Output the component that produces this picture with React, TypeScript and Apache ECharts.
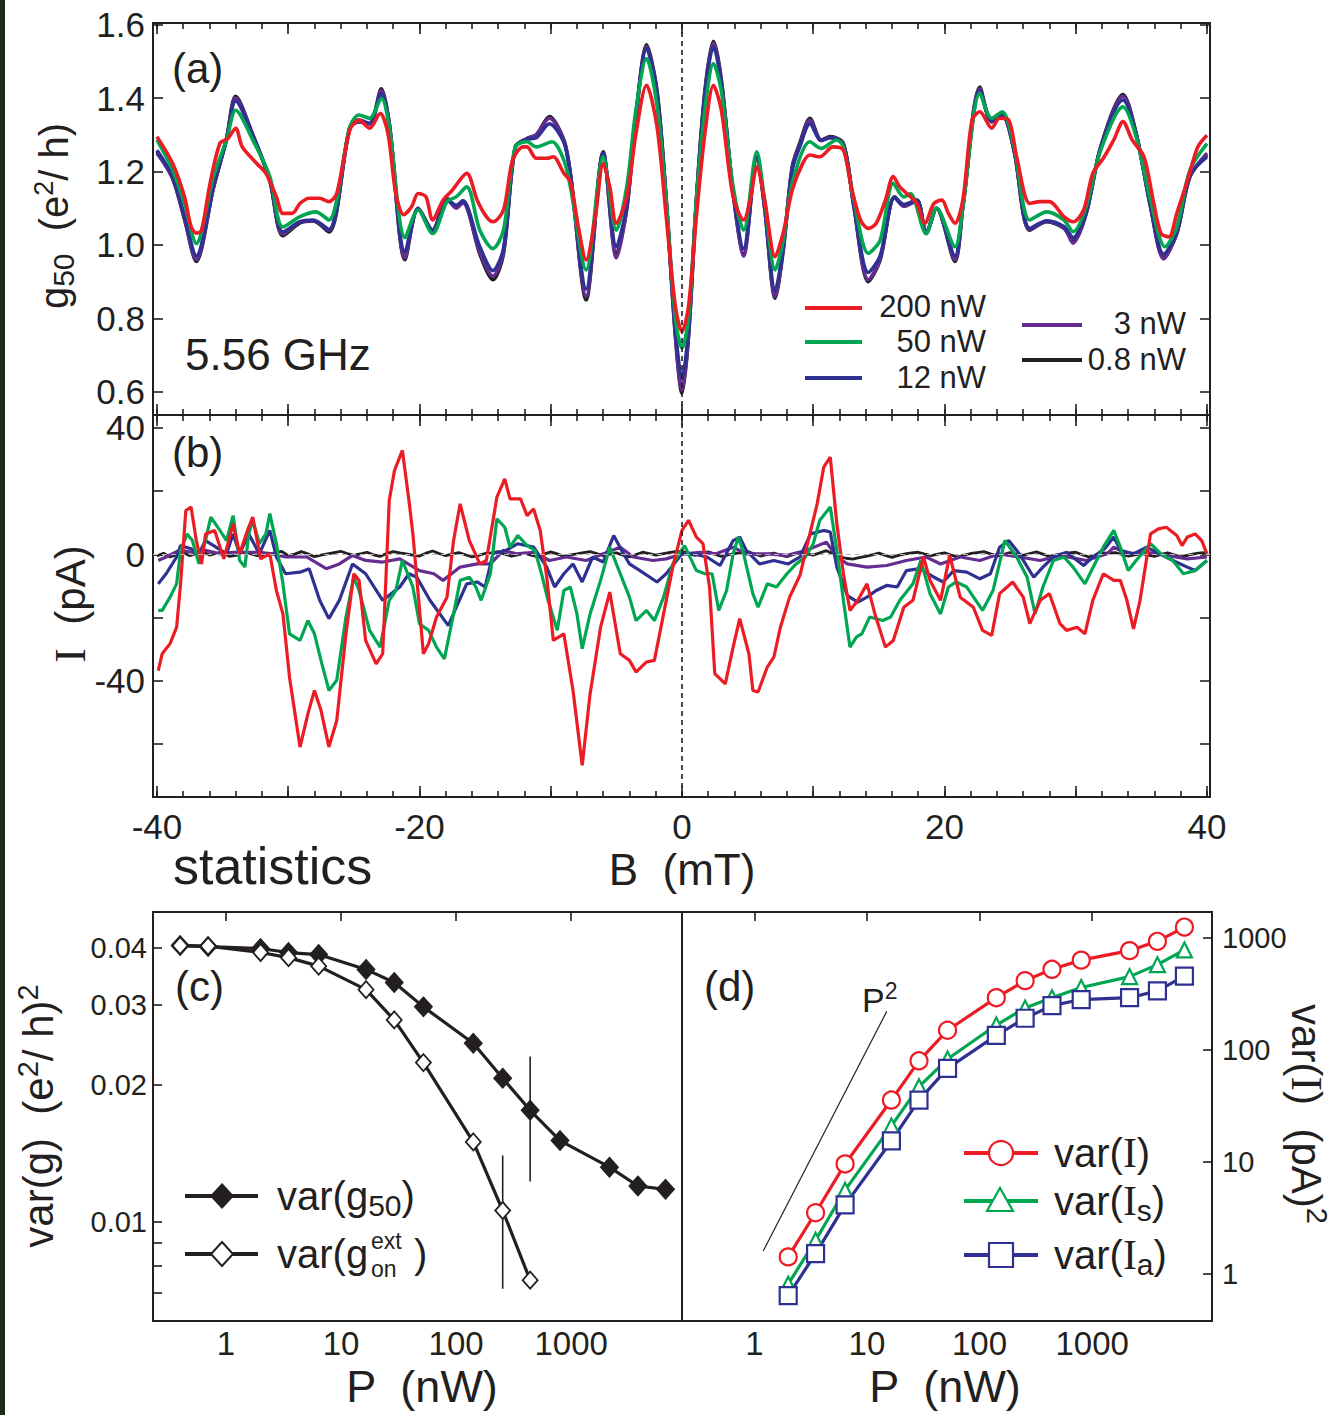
import React, { useEffect, useRef } from 'react';
import * as echarts from 'echarts';

const FONT = '"Liberation Sans", Arial, Helvetica, sans-serif';
const SERIF = '"Liberation Serif", "Times New Roman", serif';
const INK = '#231f20';
const RED = '#ec1c24';
const GREEN = '#00a651';
const BLUE = '#2e3192';
const PURPLE = '#662d91';

// ---------- tick / label values ----------
const B_TICKS_MINOR = [-40, -38, -36, -34, -32, -30, -28, -26, -24, -22, -20, -18, -16, -14, -12, -10, -8, -6, -4, -2, 0, 2, 4, 6, 8, 10, 12, 14, 16, 18, 20, 22, 24, 26, 28, 30, 32, 34, 36, 38, 40];
const B_TICKS_MAJOR = [-40, -30, -20, -10, 0, 10, 20, 30, 40];
const B_LABELS = [-40, -20, 0, 20, 40];
const G_TICKS = [0.6, 0.8, 1.0, 1.2, 1.4, 1.6];
const I_TICKS = [-60, -40, -20, 0, 20, 40];
const I_LABELS = [-40, 0, 40];
const P_LABELS = [1, 10, 100, 1000];
const VARG_TICKS = [0.04, 0.03, 0.02, 0.01, 0.009, 0.008, 0.007];
const VARG_LABELS = [0.04, 0.03, 0.02, 0.01];
const VARI_LABELS = [1, 10, 100, 1000];

// ---------- panel (a): g50 vs B ----------
const G_BLACK = [[-40.0,1.255],[-38.8,1.18],[-37.9,1.07],[-37.0,0.955],[-35.7,1.155],[-34.7,1.29],[-34.0,1.405],[-32.7,1.30],[-31.4,1.175],[-30.4,1.025],[-29.1,1.06],[-28.1,1.065],[-26.9,1.035],[-25.3,1.32],[-24.6,1.335],[-23.8,1.33],[-22.9,1.425],[-22.3,1.33],[-21.1,0.96],[-20.1,1.10],[-19.0,1.04],[-17.9,1.127],[-17.2,1.105],[-16.7,1.12],[-15.4,0.975],[-14.4,0.905],[-13.6,0.975],[-12.7,1.267],[-11.8,1.29],[-11.1,1.30],[-10.1,1.35],[-9.0,1.286],[-8.5,1.195],[-7.3,0.85],[-6.0,1.254],[-5.0,0.975],[-4.2,1.10],[-3.5,1.35],[-2.7,1.545],[-1.9,1.42],[-1.2,1.122],[-0.5,0.75],[0,0.595],[0.5,0.75],[1.1,1.122],[1.75,1.42],[2.4,1.555],[3.0,1.45],[3.9,1.141],[4.7,0.975],[5.7,1.24],[6.3,1.10],[7.1,0.855],[7.7,0.98],[8.4,1.213],[9.0,1.28],[9.75,1.345],[10.6,1.286],[11.3,1.295],[12.3,1.276],[13.1,1.104],[14.2,0.90],[15.1,0.959],[16.2,1.131],[16.9,1.109],[17.9,1.122],[18.6,1.031],[19.4,1.10],[20.8,0.955],[21.4,1.104],[22.7,1.43],[23.6,1.336],[24.4,1.354],[25.3,1.258],[26.5,1.04],[27.8,1.063],[29.1,1.045],[29.8,1.01],[30.8,1.086],[31.9,1.267],[33.6,1.41],[34.6,1.304],[35.7,1.104],[36.7,0.965],[37.7,1.031],[38.7,1.186],[40.0,1.245]];
const G_PURPLE = [[-40.0,1.25],[-38.8,1.182],[-37.9,1.072],[-37.0,0.96],[-35.7,1.155],[-34.7,1.288],[-34.0,1.40],[-32.7,1.30],[-31.4,1.176],[-30.4,1.03],[-29.1,1.062],[-28.1,1.066],[-26.9,1.04],[-25.3,1.32],[-24.6,1.336],[-23.8,1.33],[-22.9,1.42],[-22.3,1.33],[-21.1,0.965],[-20.1,1.10],[-19.0,1.04],[-17.9,1.125],[-17.2,1.10],[-16.7,1.115],[-15.4,0.98],[-14.4,0.915],[-13.6,0.98],[-12.7,1.265],[-11.8,1.29],[-11.1,1.30],[-10.1,1.345],[-9.0,1.285],[-8.5,1.19],[-7.3,0.86],[-6.0,1.25],[-5.0,0.965],[-4.2,1.10],[-3.5,1.35],[-2.7,1.54],[-1.9,1.415],[-1.2,1.12],[-0.5,0.755],[0,0.605],[0.5,0.755],[1.1,1.12],[1.75,1.415],[2.4,1.55],[3.0,1.445],[3.9,1.14],[4.7,0.97],[5.7,1.238],[6.3,1.10],[7.1,0.86],[7.7,0.985],[8.4,1.21],[9.0,1.275],[9.75,1.34],[10.6,1.285],[11.3,1.293],[12.3,1.274],[13.1,1.105],[14.2,0.905],[15.1,0.962],[16.2,1.13],[16.9,1.105],[17.9,1.12],[18.6,1.032],[19.4,1.10],[20.8,0.96],[21.4,1.104],[22.7,1.425],[23.6,1.335],[24.4,1.352],[25.3,1.257],[26.5,1.042],[27.8,1.064],[29.1,1.047],[29.8,1.005],[30.8,1.086],[31.9,1.265],[33.6,1.405],[34.6,1.303],[35.7,1.105],[36.7,0.962],[37.7,1.032],[38.7,1.186],[40.0,1.25]];
const G_BLUE = [[-40.0,1.258],[-38.8,1.186],[-37.9,1.078],[-37.0,0.97],[-35.7,1.16],[-34.7,1.286],[-34.0,1.392],[-32.7,1.298],[-31.4,1.177],[-30.4,1.035],[-29.1,1.063],[-28.1,1.068],[-26.9,1.042],[-25.3,1.322],[-24.6,1.34],[-23.8,1.331],[-22.9,1.412],[-22.3,1.33],[-21.1,0.98],[-20.1,1.098],[-19.0,1.04],[-17.9,1.122],[-17.2,1.108],[-16.7,1.12],[-15.4,0.995],[-14.4,0.93],[-13.6,0.99],[-12.7,1.266],[-11.8,1.288],[-11.1,1.292],[-10.1,1.33],[-9.0,1.28],[-8.5,1.19],[-7.3,0.88],[-6.0,1.25],[-5.0,0.995],[-4.2,1.11],[-3.5,1.36],[-2.7,1.535],[-1.9,1.41],[-1.2,1.122],[-0.5,0.77],[0,0.635],[0.5,0.77],[1.1,1.122],[1.75,1.41],[2.4,1.54],[3.0,1.44],[3.9,1.145],[4.7,0.99],[5.7,1.24],[6.3,1.11],[7.1,0.875],[7.7,0.99],[8.4,1.205],[9.0,1.27],[9.75,1.33],[10.6,1.284],[11.3,1.292],[12.3,1.272],[13.1,1.108],[14.2,0.925],[15.1,0.97],[16.2,1.13],[16.9,1.11],[17.9,1.122],[18.6,1.032],[19.4,1.10],[20.8,0.97],[21.4,1.104],[22.7,1.42],[23.6,1.338],[24.4,1.355],[25.3,1.26],[26.5,1.045],[27.8,1.066],[29.1,1.05],[29.8,1.02],[30.8,1.09],[31.9,1.265],[33.6,1.395],[34.6,1.302],[35.7,1.108],[36.7,0.975],[37.7,1.035],[38.7,1.19],[40.0,1.24]];
const G_GREEN = [[-40.0,1.286],[-38.8,1.204],[-37.9,1.113],[-37.0,1.004],[-35.7,1.186],[-34.7,1.286],[-34.0,1.367],[-32.7,1.286],[-31.4,1.186],[-30.4,1.049],[-29.1,1.077],[-27.9,1.09],[-26.9,1.068],[-25.3,1.322],[-24.6,1.354],[-23.8,1.345],[-22.9,1.399],[-22.3,1.322],[-21.1,1.02],[-20.1,1.095],[-19.0,1.031],[-17.9,1.118],[-17.2,1.131],[-16.4,1.158],[-15.4,1.04],[-14.4,0.99],[-13.6,1.04],[-12.7,1.267],[-11.8,1.281],[-11.1,1.267],[-9.9,1.281],[-9.0,1.231],[-8.5,1.158],[-7.3,0.932],[-6.0,1.24],[-5.0,1.04],[-4.2,1.16],[-3.5,1.37],[-2.7,1.508],[-1.9,1.38],[-1.2,1.122],[-0.5,0.80],[0,0.719],[0.5,0.80],[1.1,1.122],[1.75,1.37],[2.4,1.494],[3.0,1.42],[3.9,1.158],[4.7,1.04],[5.7,1.254],[6.3,1.12],[7.1,0.932],[7.7,1.01],[8.4,1.168],[9.75,1.281],[10.6,1.263],[11.8,1.286],[12.3,1.267],[13.1,1.122],[14.2,0.977],[15.1,1.013],[16.1,1.168],[16.9,1.131],[17.4,1.14],[18.6,1.031],[19.4,1.1],[20.8,0.995],[21.4,1.104],[22.7,1.413],[23.6,1.345],[24.4,1.363],[25.3,1.267],[26.5,1.068],[27.8,1.09],[29.1,1.068],[29.8,1.036],[30.8,1.104],[31.9,1.258],[33.6,1.376],[34.6,1.295],[35.7,1.122],[36.8,0.995],[37.7,1.049],[38.7,1.204],[40.0,1.276]];
const G_RED = [[-40.0,1.295],[-38.8,1.222],[-37.9,1.131],[-37.4,1.05],[-37.0,1.032],[-36.6,1.04],[-36.0,1.159],[-35.2,1.277],[-34.6,1.29],[-34.0,1.318],[-33.5,1.267],[-32.4,1.222],[-31.7,1.195],[-30.9,1.131],[-30.4,1.086],[-29.7,1.086],[-29.1,1.113],[-28.4,1.127],[-27.6,1.127],[-26.9,1.118],[-26.3,1.14],[-25.3,1.313],[-24.6,1.34],[-23.8,1.318],[-23.0,1.358],[-22.4,1.304],[-21.8,1.14],[-21.2,1.082],[-20.6,1.104],[-20.1,1.14],[-19.5,1.131],[-19.0,1.068],[-18.2,1.122],[-17.5,1.149],[-16.4,1.195],[-15.6,1.122],[-14.9,1.077],[-14.4,1.063],[-13.6,1.095],[-12.9,1.231],[-12.1,1.267],[-11.8,1.267],[-11.1,1.236],[-10.3,1.236],[-9.8,1.24],[-9.0,1.195],[-8.5,1.172],[-7.9,1.05],[-7.3,0.959],[-6.6,1.077],[-6.0,1.222],[-5.5,1.158],[-5.0,1.059],[-4.2,1.131],[-3.5,1.304],[-2.7,1.435],[-1.9,1.322],[-1.2,1.077],[-0.5,0.832],[0,0.764],[0.5,0.832],[1.1,1.077],[1.75,1.304],[2.4,1.435],[3.0,1.367],[3.9,1.131],[4.7,1.068],[5.2,1.122],[5.7,1.213],[6.3,1.122],[7.1,0.968],[7.7,1.031],[8.4,1.149],[9.2,1.222],[9.75,1.245],[10.5,1.24],[11.5,1.267],[12.3,1.258],[12.9,1.158],[13.6,1.068],[14.2,1.045],[14.8,1.059],[15.5,1.122],[16.1,1.186],[16.6,1.158],[17.4,1.131],[17.9,1.113],[18.5,1.059],[19.2,1.113],[19.8,1.122],[20.3,1.086],[20.8,1.059],[21.4,1.122],[22.1,1.34],[22.7,1.363],[23.6,1.318],[24.2,1.345],[24.9,1.34],[25.5,1.24],[26.5,1.113],[27.3,1.118],[28.0,1.118],[29.1,1.077],[29.8,1.063],[30.6,1.095],[31.3,1.195],[32.1,1.236],[32.9,1.286],[33.6,1.336],[34.3,1.286],[35.2,1.24],[35.9,1.122],[36.5,1.031],[37.1,1.022],[37.7,1.086],[38.6,1.186],[39.3,1.267],[40.0,1.299]];

// ---------- panel (b): I vs B ----------
const I_BLACK = [[-40,-0.5],[-39.5,0.4],[-39,-0.8],[-38.5,-0.1],[-38,0.6],[-37.5,-0.4],[-37,0.3],[-36.5,0.9],[-36,-0.2],[-35.5,0.3],[-35,0.8],[-34.5,-0.6],[-34,-0.3],[-33.5,0.7],[-33,0.4],[-32.5,-0.2],[-32,-0.6],[-31.5,0.2],[-31,0.5],[-30.5,1.0],[-30,-0.4],[-29.5,0.1],[-29,0.9],[-28.5,0.2],[-28,-0.7],[-27.5,-0.2],[-27,0.2],[-26.5,0.6],[-26,1.0],[-25.5,0.3],[-25,-0.3],[-24.5,0.2],[-24,0.7],[-23.5,-0.1],[-23,-0.6],[-22.5,0.3],[-22,0.9],[-21.5,0.5],[-21,0.2],[-20.5,-0.2],[-20,-0.5],[-19.5,0.4],[-19,1.1],[-18.5,0.3],[-18,-0.4],[-17.5,0.1],[-17,0.6],[-16.5,-0.1],[-16,-0.8],[-15.5,-0.3],[-15,0.3],[-14.5,0.5],[-14,0.9],[-13.5,0.1],[-13,-0.5],[-12.5,-0.1],[-12,0.4],[-11.5,-0.2],[-11,-0.7],[-10.5,0.1],[-10,0.8],[-9.5,0.2],[-9,-0.6],[-8.5,-0.1],[-8,0.2],[-7.5,0.6],[-7,0.9],[-6.5,0.3],[-6,-0.4],[-5.5,0.1],[-5,0.5],[-4.5,-0.2],[-4,-0.8],[-3.5,0.0],[-3,0.7],[-2.5,0.3],[-2,-0.2],[-1.5,0.2],[-1,0.6],[-0.5,0.9],[0,1.0],[0.5,0.3],[1,-0.3],[1.5,0.4],[2,0.8],[2.5,0.1],[3,-0.6],[3.5,-0.1],[4,0.3],[4.5,0.6],[5,0.9],[5.5,0.2],[6,-0.5],[6.5,0.0],[7,0.4],[7.5,-0.2],[8,-0.7],[8.5,0.0],[9,0.6],[9.5,0.2],[10,-0.2],[10.5,0.5],[11,1.2],[11.5,0.2],[12,-0.8],[12.5,-1.2],[13,-1.5],[13.5,-1.0],[14,-0.6],[14.5,-0.1],[15,0.4],[15.5,-0.3],[16,-0.9],[16.5,-0.3],[17,0.2],[17.5,0.5],[18,0.7],[18.5,0.1],[19,-0.4],[19.5,0.1],[20,0.5],[20.5,-0.2],[21,-0.8],[21.5,-0.2],[22,0.3],[22.5,0.6],[23,0.9],[23.5,0.2],[24,-0.5],[24.5,0.0],[25,0.6],[25.5,0.1],[26,-0.3],[26.5,0.3],[27,0.8],[27.5,0.1],[28,-0.6],[28.5,-0.1],[29,0.2],[29.5,0.5],[30,0.7],[30.5,-0.1],[31,-0.8],[31.5,-0.2],[32,0.4],[32.5,0.5],[33,0.6],[33.5,0.0],[34,-0.5],[34.5,-0.1],[35,0.3],[35.5,-0.2],[36,-0.6],[36.5,0.0],[37,0.5],[37.5,-0.1],[38,-0.8],[38.5,-0.3],[39,0.2],[39.5,0.5],[40,0.6]];
const I_PURPLE = [[-39.9,-1.9],[-39.3,-0.8],[-38.3,1.3],[-37.3,0.7],[-36.3,1.3],[-35.2,0.2],[-34.2,0.7],[-33.2,0.7],[-32.2,0.7],[-31.2,0.2],[-30.2,-0.8],[-28.6,-0.8],[-27.1,-4.5],[-26.1,-3.0],[-25.1,-0.3],[-24.1,-1.9],[-22.8,-2.4],[-21.5,-1.4],[-20.0,-5.1],[-18.9,-6.1],[-18.2,-8.2],[-16.9,-4.0],[-15.6,-3.0],[-14.6,-3.0],[-13.6,1.3],[-12.6,0.2],[-11.3,0.7],[-10.1,-1.9],[-8.8,-0.8],[-7.3,-1.9],[-5.7,0.7],[-4.7,2.3],[-3.7,-0.8],[-2.2,-1.9],[-1.2,-1.4],[0.1,0.2],[1.4,0.7],[2.6,0.2],[3.9,2.3],[4.9,0.2],[6.5,0.2],[8.0,-0.3],[9.5,1.3],[11.0,3.9],[11.8,-0.8],[12.6,-3.0],[14.1,-4.0],[15.6,-3.5],[17.1,-1.9],[18.6,-0.8],[19.7,-3.0],[21.2,-0.8],[22.7,-1.9],[24.2,0.2],[25.7,-0.8],[27.3,-1.9],[28.8,-0.3],[30.8,-1.9],[32.4,0.2],[32.9,2.3],[33.9,0.2],[35.4,0.7],[36.9,-0.3],[38.5,-1.4],[40.0,-0.8]];
const I_BLUE = [[-39.9,-9.3],[-39.3,-6.1],[-38.5,-0.8],[-38.2,2.8],[-37.4,1.8],[-36.8,0.2],[-36.3,4.4],[-35.5,2.3],[-34.7,0.2],[-34.2,6.5],[-33.7,0.2],[-33.0,6.5],[-32.2,0.2],[-31.4,7.6],[-30.9,-0.8],[-30.2,-6.1],[-29.1,-5.6],[-28.4,-4.5],[-27.6,-14.5],[-26.9,-20.3],[-26.1,-14.5],[-25.1,-3.0],[-24.1,-6.1],[-22.8,-14.5],[-21.5,-10.3],[-20.8,-6.1],[-20.2,-7.2],[-19.2,-14.5],[-17.8,-22.5],[-17.2,-16.7],[-16.4,-9.3],[-15.6,-8.7],[-15.0,-10.3],[-14.4,0.2],[-13.4,1.3],[-12.5,3.4],[-11.3,2.3],[-10.3,-4.0],[-9.7,-10.3],[-9.0,-6.1],[-8.3,-3.0],[-7.6,-8.7],[-6.8,-0.8],[-6.0,-2.4],[-5.2,6.0],[-4.6,1.3],[-4.0,-3.0],[-3.2,-5.1],[-1.9,-8.7],[-1.2,-6.1],[0.0,0.2],[0.9,0.2],[1.9,-0.8],[2.9,-3.5],[3.9,4.4],[4.4,5.5],[4.9,1.3],[5.9,-3.0],[7.0,-1.9],[8.1,-3.0],[9.0,-0.8],[9.8,6.5],[10.8,7.6],[11.3,7.1],[11.8,-4.0],[12.6,-13.0],[13.4,-15.1],[14.1,-13.5],[14.8,-11.4],[15.6,-9.8],[16.4,-10.3],[17.1,-5.1],[18.1,-4.5],[19.2,-7.2],[19.9,-8.7],[20.7,-5.1],[21.7,-5.6],[22.7,-7.7],[23.5,-6.1],[24.2,2.3],[24.9,4.4],[25.7,0.2],[26.8,-7.2],[27.5,-4.0],[28.3,-0.8],[29.3,0.7],[30.6,-3.5],[31.3,-0.8],[32.2,1.8],[32.9,5.5],[33.4,1.3],[34.4,0.2],[35.4,2.3],[36.4,0.2],[37.4,-1.9],[38.5,-4.0],[39.1,-5.1],[40.0,-1.9]];
const I_GREEN = [[-39.9,-17.7],[-39.6,-17.7],[-39.0,-13.5],[-38.5,-9.3],[-38.2,1.3],[-37.7,6.5],[-37.3,4.4],[-36.8,-3.0],[-36.3,4.4],[-35.9,11.8],[-35.2,7.6],[-34.7,4.4],[-34.2,12.3],[-33.7,-1.9],[-33.3,-4.0],[-33.0,6.5],[-32.7,10.8],[-32.2,3.4],[-31.7,6.5],[-31.4,12.9],[-30.9,3.4],[-30.4,-9.3],[-29.9,-25.1],[-29.1,-27.2],[-28.5,-20.9],[-28.0,-25.1],[-27.5,-33.5],[-26.9,-43.0],[-26.3,-39.8],[-25.6,-19.8],[-25.0,-7.2],[-24.6,-11.4],[-23.8,-24.0],[-23.0,-29.3],[-22.3,-14.5],[-21.8,-11.4],[-21.3,-1.9],[-20.5,-10.3],[-20.0,-21.9],[-19.3,-24.0],[-18.7,-29.3],[-18.1,-33.0],[-17.4,-18.8],[-16.9,-8.2],[-16.2,-7.2],[-15.7,-10.3],[-15.3,-14.5],[-14.6,-6.1],[-14.1,11.3],[-13.5,8.6],[-13.1,2.3],[-12.5,6.0],[-11.8,2.8],[-11.2,1.3],[-10.7,-6.1],[-10.2,-14.5],[-9.5,-24.0],[-9.0,-11.4],[-8.5,-10.3],[-8.0,-18.8],[-7.6,-29.8],[-7.0,-18.8],[-6.2,-8.2],[-5.5,2.3],[-4.7,-6.1],[-4.0,-13.5],[-3.5,-20.9],[-2.7,-17.7],[-2.1,-20.9],[-1.4,-13.5],[-0.7,-3.0],[0.2,2.8],[1.1,-5.1],[1.75,-6.1],[2.3,-6.1],[2.8,-17.7],[3.4,-11.4],[3.9,0.2],[4.3,5.5],[4.7,0.2],[5.4,-12.4],[5.8,-16.7],[6.5,-9.3],[7.2,-10.3],[8.0,-6.1],[8.7,-3.0],[9.4,-0.8],[10.0,3.4],[10.5,10.8],[11.3,15.0],[11.8,1.3],[12.3,-14.5],[12.8,-29.3],[13.3,-26.1],[13.7,-25.1],[14.3,-19.8],[15.3,-20.9],[15.9,-19.8],[16.6,-14.5],[17.6,-9.3],[18.2,-1.9],[18.9,-12.4],[19.7,-18.8],[20.3,-10.3],[20.9,-8.7],[21.7,-10.3],[22.9,-17.7],[23.7,-11.4],[24.6,4.4],[25.5,-0.8],[26.3,-7.2],[26.9,-18.8],[27.5,-10.3],[28.3,-1.9],[29.1,-0.8],[29.8,-4.0],[30.7,-9.3],[31.2,-5.1],[32.1,2.3],[32.9,7.6],[33.4,2.3],[34.0,-5.1],[34.6,-1.9],[35.7,3.4],[36.5,0.2],[37.4,-1.9],[38.2,-6.1],[39.1,-5.1],[40.0,-1.9]];
const I_RED = [[-39.9,-36.7],[-39.6,-31.4],[-39.0,-28.2],[-38.5,-23.0],[-38.2,-9.3],[-37.8,13.9],[-37.4,15.0],[-37.0,4.4],[-36.6,-3.0],[-36.3,6.5],[-35.6,7.6],[-34.9,-1.4],[-34.2,9.7],[-33.7,0.2],[-33.1,7.6],[-32.7,11.8],[-32.1,-1.4],[-31.4,0.2],[-30.9,-11.4],[-30.4,-18.8],[-29.9,-38.8],[-29.1,-60.9],[-28.5,-50.4],[-28.0,-43.0],[-27.5,-49.3],[-26.9,-60.9],[-26.3,-52.5],[-25.6,-25.1],[-25.0,-6.1],[-24.6,-8.2],[-24.1,-27.2],[-23.3,-34.6],[-22.8,-31.4],[-22.3,17.1],[-21.9,26.6],[-21.3,32.9],[-20.8,17.1],[-20.5,6.5],[-19.7,-31.4],[-19.3,-28.2],[-18.7,-19.8],[-17.9,-13.5],[-17.4,4.4],[-16.9,16.0],[-16.2,4.4],[-15.4,-3.0],[-14.9,-1.9],[-14.1,18.1],[-13.5,23.9],[-13.1,17.6],[-12.3,17.6],[-11.8,12.3],[-11.3,14.4],[-10.8,7.6],[-10.3,-7.2],[-9.8,-27.2],[-9.0,-25.1],[-8.3,-43.0],[-7.6,-66.7],[-7.0,-44.1],[-6.2,-23.0],[-5.5,-11.9],[-4.7,-31.4],[-4.0,-33.5],[-3.5,-37.2],[-2.7,-34.0],[-2.1,-33.5],[-1.4,-18.8],[-0.7,-4.0],[0.0,7.6],[0.5,10.8],[1.1,5.5],[1.6,3.4],[2.1,-10.3],[2.5,-37.7],[3.3,-40.9],[3.9,-29.3],[4.4,-20.3],[5.1,-31.4],[5.4,-43.0],[5.8,-43.5],[6.5,-35.6],[7.0,-32.5],[7.5,-23.0],[8.2,-13.5],[9.0,-6.5],[9.5,2.3],[10.3,16.0],[10.8,27.6],[11.3,30.8],[11.8,9.7],[12.3,-6.1],[12.8,-17.7],[13.4,-14.5],[14.1,-9.3],[14.7,-18.8],[15.5,-29.3],[16.1,-27.2],[16.9,-16.7],[17.6,-14.5],[18.4,-0.8],[18.9,-8.2],[19.7,-14.5],[20.4,-0.3],[21.2,-13.5],[22.2,-16.7],[22.9,-24.0],[23.6,-25.6],[24.2,-12.4],[25.2,-8.7],[26.0,-13.5],[26.5,-21.9],[27.3,-14.5],[28.0,-12.4],[28.8,-21.9],[29.3,-24.0],[30.1,-23.0],[30.7,-25.1],[31.3,-14.5],[32.1,-6.1],[32.9,-8.2],[33.4,-8.2],[33.9,-14.5],[34.4,-23.5],[34.9,-14.5],[35.7,6.5],[36.3,8.1],[36.9,8.6],[37.7,6.0],[38.1,2.8],[38.5,5.5],[39.1,6.5],[39.6,4.4],[40.0,0.2]];

// ---------- panel (c): var(g) vs P ----------
const P_C_FILLED = [0.4, 0.7, 2, 3.5, 6.4, 16.5, 29, 52, 141, 254, 440, 800, 2150, 3800, 6600];
const VAR_G50 = [0.0405, 0.0403, 0.0399, 0.0391, 0.0387, 0.0359, 0.0336, 0.0297, 0.0247, 0.0207, 0.0176, 0.0151, 0.0132, 0.0120, 0.0118];
const P_C_OPEN = [0.4, 0.7, 2, 3.5, 6.4, 16.5, 29, 52, 141, 254, 440];
const VAR_GON = [0.0405, 0.0404, 0.0391, 0.0381, 0.0365, 0.0324, 0.0278, 0.0224, 0.0150, 0.0106, 0.00745];
const ERR_P = [440, 254];
const ERR_HI = [0.0231, 0.0140];
const ERR_LO = [0.01228, 0.00713];

// ---------- panel (d): var(I) vs P ----------
const P_D = [2, 3.5, 6.4, 16.5, 29, 52, 141, 254, 440, 800, 2150, 3800, 6600];
const VAR_I = [1.42, 3.52, 9.6, 35.7, 80, 150, 293, 416, 525, 634, 771, 933, 1251];
const VAR_IS = [0.81, 2.0, 5.6, 21, 47, 83, 167, 237, 293, 361, 452, 578, 782];
const VAR_IA = [0.64, 1.52, 4.14, 15.4, 35.7, 68.5, 135, 192, 249, 282, 293, 337, 456];
const P2_GUIDE = [[1.2, 1.6], [15, 221]];

const zip = (xs: number[], ys: number[]) => xs.map((x, i) => [x, ys[i]]);
const fmtNum = (v: number) => String(+Number(v).toPrecision(4));

function ticks(values: number[], len: number) {
  return { show: true, inside: true, length: len, customValues: values, lineStyle: { color: INK, width: 1.6 } };
}
function labels(values: number[], size: number, margin: number, fmt: (v: number) => string) {
  return { show: true, customValues: values, fontSize: size, fontFamily: FONT, color: INK, margin, formatter: fmt };
}
const NOLABEL = { show: false };
const NOLINE = { show: false, onZero: false };

function bx(grid: number, pos: string, t: number[], len: number, lab?: any) {
  return {
    type: 'value', gridIndex: grid, position: pos, min: -40.3, max: 40.23,
    axisLine: NOLINE, splitLine: { show: false },
    axisTick: ticks(t, len), axisLabel: lab || NOLABEL,
  };
}

function buildOption() {
  const rich = (size: number) => ({
    n: { fontSize: size, fontFamily: FONT, fill: INK, lineHeight: size + 8 },
    i: { fontSize: size + 2, fontFamily: SERIF, fill: INK, lineHeight: size + 8 },
    sub: { fontSize: Math.round(size * 0.75), fontFamily: FONT, fill: INK, lineHeight: Math.round(size * 0.55), verticalAlign: 'bottom' },
    sup: { fontSize: Math.round(size * 0.68), fontFamily: FONT, fill: INK, lineHeight: Math.round(size * 0.5), verticalAlign: 'top' },
  });
  const txt = (x: number, y: number, text: string, size: number, align = 'left') => ({
    type: 'text', x, y, z: 100,
    style: { text, fontSize: size, fontFamily: FONT, fill: INK, align, textAlign: align, verticalAlign: 'middle', textVerticalAlign: 'middle' },
  });
  const richTxt = (x: number, y: number, text: string, size: number, align = 'left', rotation = 0) => ({
    type: 'text', x, y, rotation, z: 100,
    style: { text, rich: rich(size), fontSize: size, fontFamily: FONT, fill: INK, align, textAlign: align, verticalAlign: 'middle', textVerticalAlign: 'middle' },
  });
  const hline = (x1: number, x2: number, y: number, color: string, w = 4) => ({
    type: 'line', z: 100, shape: { x1, y1: y, x2, y2: y }, style: { stroke: color, lineWidth: w },
  });

  const graphic: any[] = [
    { type: 'rect', shape: { x: 0, y: 0, width: 5, height: 1415 }, style: { fill: '#1b2a1b' } },
    txt(172, 68, '(a)', 42),
    txt(172, 452, '(b)', 42),
    txt(185, 354, '5.56 GHz', 44),
    txt(175, 986, '(c)', 42),
    txt(704, 986, '(d)', 42),
    txt(173, 866, 'statistics', 52),
    txt(682, 869, 'B  (mT)', 44, 'center'),
    txt(422, 1386, 'P  (nW)', 45, 'center'),
    txt(945, 1386, 'P  (nW)', 45, 'center'),
    richTxt(54, 216, '{n|g}{sub|50}{n|  (e}{sup|2}{n|/ h)}', 40, 'center', Math.PI / 2),
    richTxt(70, 604, '{i|I}{n|  (pA)}', 42, 'center', Math.PI / 2),
    richTxt(38, 1116, '{n|var(g)  (e}{sup|2}{n|/ h)}{sup|2}', 42, 'center', Math.PI / 2),
    richTxt(1306, 1114, '{n|var(}{i|I}{n|)  (pA)}{sup|2}', 42, 'center', -Math.PI / 2),
    // legend (a)
    hline(805, 862, 308, RED), txt(986, 306, '200 nW', 31, 'right'),
    hline(805, 862, 342, GREEN), txt(986, 341, '50 nW', 31, 'right'),
    hline(805, 862, 378, BLUE), txt(986, 377, '12 nW', 31, 'right'),
    hline(1022, 1082, 325, PURPLE), txt(1186, 323, '3 nW', 31, 'right'),
    hline(1022, 1082, 360, INK), txt(1186, 359, '0.8 nW', 31, 'right'),
    // legend (c)
    hline(185, 258, 1196, INK),
    { type: 'polygon', z: 101, shape: { points: [[222, 1184], [233, 1196], [222, 1208], [211, 1196]] }, style: { fill: INK, stroke: INK, lineWidth: 1.5 } },
    richTxt(277, 1196, '{n|var(g}{sub|50}{n|)}', 40),
    hline(185, 258, 1254, INK),
    { type: 'polygon', z: 101, shape: { points: [[222, 1242], [233, 1254], [222, 1266], [211, 1254]] }, style: { fill: '#fff', stroke: INK, lineWidth: 2 } },
    txt(277, 1254, 'var(g', 40),
    {
      type: 'text', x: 371, y: 1255, z: 100,
      style: { text: 'ext\non', fontSize: 23, lineHeight: 28, fontFamily: FONT, fill: INK, align: 'left', textAlign: 'left', verticalAlign: 'middle', textVerticalAlign: 'middle' },
    },
    txt(414, 1254, ')', 40),
    // legend (d)
    hline(964, 1038, 1153, RED),
    { type: 'circle', z: 101, shape: { cx: 1001, cy: 1153, r: 12 }, style: { fill: '#fff', stroke: RED, lineWidth: 2.2 } },
    richTxt(1054, 1153, '{n|var(}{i|I}{n|)}', 40),
    hline(964, 1038, 1201, GREEN),
    { type: 'polygon', z: 101, shape: { points: [[1000, 1188], [1013, 1211], [987, 1211]] }, style: { fill: '#fff', stroke: GREEN, lineWidth: 2.2 } },
    richTxt(1054, 1201, '{n|var(}{i|I}{sub|s}{n|)}', 40),
    hline(964, 1038, 1255, BLUE),
    { type: 'rect', z: 101, shape: { x: 989, y: 1243, width: 24, height: 24 }, style: { fill: '#fff', stroke: BLUE, lineWidth: 2.2 } },
    richTxt(1054, 1255, '{n|var(}{i|I}{sub|a}{n|)}', 40),
    // P^2 label
    richTxt(862, 1000, '{n|P}{sup|2}', 34),
  ];

  const gridBase = { show: true, borderColor: INK, borderWidth: 2, backgroundColor: 'transparent', containLabel: false, outerBoundsMode: 'none' };

  const xAxis: any[] = [
    bx(0, 'bottom', B_TICKS_MINOR, 6),
    bx(0, 'bottom', B_TICKS_MAJOR, 11),
    bx(0, 'top', B_TICKS_MINOR, 6),
    bx(0, 'top', B_TICKS_MAJOR, 11),
    bx(1, 'bottom', B_TICKS_MINOR, 6),
    bx(1, 'bottom', B_TICKS_MAJOR, 11, labels(B_LABELS, 35, 12, (v: number) => String(v))),
    bx(1, 'top', B_TICKS_MINOR, 6),
    bx(1, 'top', B_TICKS_MAJOR, 11),
    { type: 'log', gridIndex: 2, position: 'bottom', min: 0.2325, max: 9180, axisLine: NOLINE, splitLine: { show: false }, axisTick: { show: false }, axisLabel: labels(P_LABELS, 33, 6, fmtNum) },
    { type: 'log', gridIndex: 2, position: 'top', min: 0.2325, max: 9180, axisLine: NOLINE, splitLine: { show: false }, axisTick: ticks(P_LABELS, 9), axisLabel: NOLABEL },
    { type: 'log', gridIndex: 3, position: 'bottom', min: 0.228, max: 11600, axisLine: NOLINE, splitLine: { show: false }, axisTick: { show: false }, axisLabel: labels(P_LABELS, 33, 6, fmtNum) },
    { type: 'log', gridIndex: 3, position: 'top', min: 0.228, max: 11600, axisLine: NOLINE, splitLine: { show: false }, axisTick: ticks(P_LABELS, 9), axisLabel: NOLABEL },
  ];

  const yAxis: any[] = [
    { type: 'value', gridIndex: 0, position: 'left', min: 0.5366, max: 1.6046, axisLine: NOLINE, splitLine: { show: false }, axisTick: ticks(G_TICKS, 10), axisLabel: labels(G_TICKS, 35, 8, (v: number) => v.toFixed(1)) },
    { type: 'value', gridIndex: 0, position: 'right', min: 0.5366, max: 1.6046, axisLine: NOLINE, splitLine: { show: false }, axisTick: ticks(G_TICKS, 10), axisLabel: NOLABEL },
    { type: 'value', gridIndex: 1, position: 'left', min: -76.7, max: 44.1, axisLine: NOLINE, splitLine: { show: false }, axisTick: ticks(I_TICKS, 10), axisLabel: labels(I_LABELS, 35, 8, (v: number) => String(v)) },
    { type: 'value', gridIndex: 1, position: 'right', min: -76.7, max: 44.1, axisLine: NOLINE, splitLine: { show: false }, axisTick: ticks(I_TICKS, 10), axisLabel: NOLABEL },
    { type: 'log', gridIndex: 2, position: 'left', min: 0.00606, max: 0.048, axisLine: NOLINE, splitLine: { show: false }, axisTick: ticks(VARG_TICKS, 9), axisLabel: labels(VARG_LABELS, 29, 6, fmtNum) },
    { type: 'log', gridIndex: 3, position: 'right', min: 0.38, max: 1706, axisLine: NOLINE, splitLine: { show: false }, axisTick: ticks(VARI_LABELS, 9), axisLabel: labels(VARI_LABELS, 29, 10, fmtNum) },
  ];

  const lineA = (data: number[][], color: string, extra: any = {}) => ({
    type: 'line', xAxisIndex: 0, yAxisIndex: 0, data, symbol: 'none', showSymbol: false, smooth: 0.3,
    lineStyle: { color, width: 3.6 }, silent: true, ...extra,
  });
  const lineB = (data: number[][], color: string, width = 3.2, extra: any = {}) => ({
    type: 'line', xAxisIndex: 4, yAxisIndex: 2, data, symbol: 'none', showSymbol: false,
    lineStyle: { color, width }, silent: true, ...extra,
  });
  const lineD = (xs: number[], ys: number[], color: string, symbol: string, size: number) => ({
    type: 'line', xAxisIndex: 10, yAxisIndex: 5, data: zip(xs, ys), symbol, symbolSize: size,
    lineStyle: { color, width: 3.2 }, itemStyle: { color: '#fff', borderColor: color, borderWidth: 2.2 }, silent: true,
  });

  const series: any[] = [
    lineA(G_BLACK, INK, {
      markLine: {
        silent: true, symbol: ['none', 'none'], label: { show: false },
        lineStyle: { color: INK, type: [5, 4], width: 1.6 }, data: [{ xAxis: 0 }],
      },
    }),
    lineA(G_PURPLE, PURPLE),
    lineA(G_BLUE, BLUE),
    lineA(G_GREEN, GREEN),
    lineA(G_RED, RED),
    // faint dashed zero line in (b), drawn under the curves
    lineB([], '#b5b5b5', 1, {
      z: 1,
      markLine: {
        silent: true, symbol: ['none', 'none'], label: { show: false },
        lineStyle: { color: '#b5b5b5', type: [5, 4], width: 1.1 }, data: [{ yAxis: 0 }],
      },
    }),
    lineB(I_BLACK, INK, 2.8, {
      markLine: {
        silent: true, symbol: ['none', 'none'], label: { show: false },
        lineStyle: { color: INK, type: [5, 4], width: 1.6 }, data: [{ xAxis: 0 }],
      },
    }),
    lineB(I_PURPLE, PURPLE),
    lineB(I_BLUE, BLUE),
    lineB(I_GREEN, GREEN),
    lineB(I_RED, RED),
    // panel (c)
    ...ERR_P.map((p, i) => ({
      type: 'line', xAxisIndex: 8, yAxisIndex: 4, data: [[p, ERR_HI[i]], [p, ERR_LO[i]]], symbol: 'none',
      lineStyle: { color: INK, width: 1.6 }, silent: true,
    })),
    {
      type: 'line', xAxisIndex: 8, yAxisIndex: 4, data: zip(P_C_FILLED, VAR_G50), symbol: 'diamond', symbolSize: [18, 20],
      lineStyle: { color: INK, width: 3.2 }, itemStyle: { color: INK, borderColor: INK, borderWidth: 1 }, silent: true,
    },
    {
      type: 'line', xAxisIndex: 8, yAxisIndex: 4, data: zip(P_C_OPEN, VAR_GON), symbol: 'diamond', symbolSize: [15, 17],
      lineStyle: { color: INK, width: 3.2 }, itemStyle: { color: '#fff', borderColor: INK, borderWidth: 1.8 }, silent: true,
    },
    // panel (d)
    {
      type: 'line', xAxisIndex: 10, yAxisIndex: 5, data: P2_GUIDE, symbol: 'none',
      lineStyle: { color: INK, width: 1.2 }, silent: true,
    },
    lineD(P_D, VAR_IS, GREEN, 'triangle', 15),
    lineD(P_D, VAR_IA, BLUE, 'rect', 17),
    lineD(P_D, VAR_I, RED, 'circle', 17),
  ];

  return {
    animation: false,
    backgroundColor: '#ffffff',
    textStyle: { fontFamily: FONT },
    grid: [
      { ...gridBase, left: 153, top: 23, width: 1057, height: 392 },
      { ...gridBase, left: 153, top: 415, width: 1057, height: 382 },
      { ...gridBase, left: 153, top: 912, width: 529, height: 409 },
      { ...gridBase, left: 682, top: 912, width: 530, height: 409 },
    ],
    xAxis,
    yAxis,
    series,
    graphic,
  };
}

export default function App() {
  const ref = useRef<HTMLDivElement>(null);
  useEffect(() => {
    if (!ref.current) return;
    const chart = echarts.init(ref.current, null, { renderer: 'svg' });
    chart.setOption(buildOption() as any);
    return () => chart.dispose();
  }, []);
  return (
    <div
      ref={ref}
      style={{ position: 'fixed', left: 0, top: 0, width: 1344, height: 1415, background: '#fff' }}
    />
  );
}
